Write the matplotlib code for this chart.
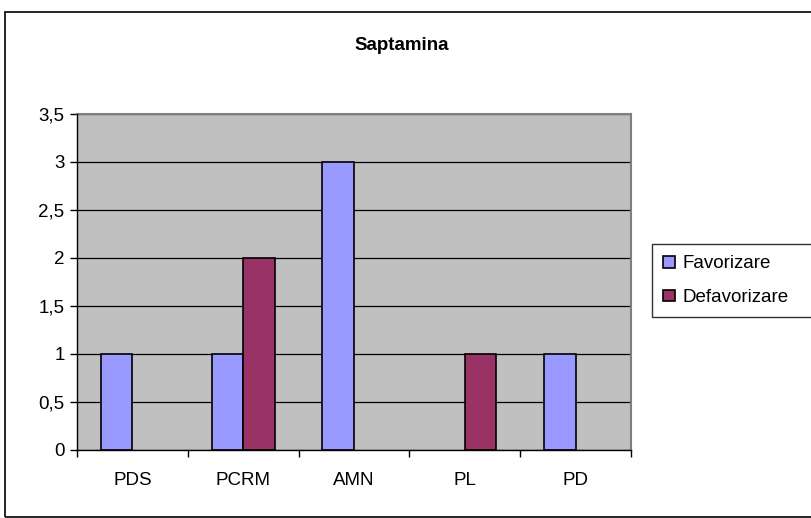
import matplotlib.pyplot as plt
import numpy as np
from matplotlib.patches import Rectangle

plt.rcParams['font.family'] = ['Liberation Sans', 'DejaVu Sans']

# date
categorii = ['PDS', 'PCRM', 'AMN', 'PL', 'PD']
favorizare = [1, 1, 3, 0, 1]
defavorizare = [0, 2, 0, 1, 0]
y_ticks = [0, 0.5, 1, 1.5, 2, 2.5, 3, 3.5]
y_labels = ['0', '0,5', '1', '1,5', '2', '2,5', '3', '3,5']

fig = plt.figure(figsize=(8.11, 5.18), dpi=100)
# chenar exterior
fig.patches.append(Rectangle((5 / 811, 0.002), 1.0, (518 - 12) / 518 - 0.002,
                             transform=fig.transFigure, fill=False,
                             edgecolor='black', linewidth=1.2))

ax = fig.add_axes([77 / 811, 1 - 450 / 518, (631 - 77) / 811, (450 - 114) / 518])
ax.set_facecolor('#C0C0C0')

x = np.arange(len(categorii))
w = 1 / 3.5
# valorile zero nu se deseneaza
fav = np.where(np.array(favorizare) == 0, np.nan, favorizare)
defav = np.where(np.array(defavorizare) == 0, np.nan, defavorizare)
ax.bar(x - w / 2, fav, w, color='#9999FF', edgecolor='black', linewidth=1.2,
       label='Favorizare', zorder=3)
ax.bar(x + w / 2, defav, w, color='#993366', edgecolor='black', linewidth=1.2,
       label='Defavorizare', zorder=3)

ax.set_xlim(-0.5, len(categorii) - 0.5)
ax.set_ylim(0, 3.5)
ax.set_yticks(y_ticks)
ax.set_yticklabels(y_labels, fontsize=13.5)
ax.set_xticks(x)
ax.set_xticklabels(categorii, fontsize=13.5)
ax.set_xticks(np.arange(len(categorii) + 1) - 0.5, minor=True)
ax.tick_params(axis='x', which='major', length=0, pad=16)
ax.tick_params(axis='x', which='minor', length=5, width=1, direction='out')
ax.tick_params(axis='y', length=5, width=1, direction='out', pad=4)
ax.grid(axis='y', color='black', linewidth=0.9, zorder=0)

for s in ['top', 'right']:
    ax.spines[s].set_color('#808080')
    ax.spines[s].set_linewidth(1.5)
for s in ['left', 'bottom']:
    ax.spines[s].set_color('black')
    ax.spines[s].set_linewidth(1.0)
ax.spines['left'].set_zorder(4)
ax.spines['bottom'].set_zorder(4)

fig.text(402 / 811, 1 - 45 / 518, 'Saptamina', ha='center', va='center',
         fontsize=13.5, fontweight='bold')

leg = fig.legend(loc='upper left',
                 bbox_to_anchor=(652 / 811, 1 - 244 / 518, 170 / 811, 0),
                 mode='expand',
                 fontsize=13.5, frameon=True, fancybox=False, edgecolor='black',
                 handlelength=0.6, handleheight=0.6, handletextpad=0.4,
                 borderpad=0.6, labelspacing=0.9, borderaxespad=0)
leg.get_frame().set_linewidth(1.0)

fig.savefig('out.png', dpi=100)
